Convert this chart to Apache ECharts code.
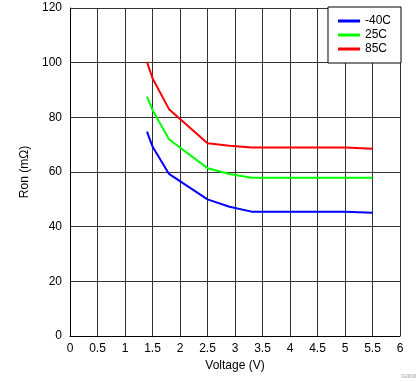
<!DOCTYPE html>
<html>
<head>
<meta charset="utf-8">
<script src="https://cdn.jsdelivr.net/npm/echarts@6/dist/echarts.min.js"></script>
<style>
html,body{margin:0;padding:0;background:#fff;}
#c{width:419px;height:382px;}
</style>
</head>
<body>
<div id="c"></div>
<script>
var voltage = [1.4, 1.5, 1.8, 2.5, 2.9, 3.3, 5.0, 5.5];
var ronM40 = [74.8, 69.3, 59.3, 50.0, 47.3, 45.5, 45.5, 45.1];
var ron25 = [87.6, 82.7, 72.0, 61.4, 59.3, 57.9, 57.9, 57.9];
var ron85 = [100.3, 94.3, 83.0, 70.5, 69.6, 69.0, 69.0, 68.5];
var seriesNames = ['-40C', '25C', '85C'];
var xTicks = ['0','0.5','1','1.5','2','2.5','3','3.5','4','4.5','5','5.5','6'];

function pairs(xs, ys){ return xs.map(function(x,i){ return [x, ys[i]]; }); }

var font = 'Liberation Sans, Arial, sans-serif';
var chart = echarts.init(document.getElementById('c'));
chart.setOption({
  animation: false,
  backgroundColor: '#fff',
  textStyle: {fontFamily: font},
  grid: {left: 70, right: 19, top: 8, bottom: 46, containLabel: false},
  legend: {
    orient: 'vertical', top: 7, right: 18,
    backgroundColor: '#fff', borderColor: '#000', borderWidth: 1, borderRadius: 0,
    padding: [7, 10, 7, 10], itemWidth: 22, itemHeight: 3, itemGap: 0,
    icon: 'rect',
    textStyle: {fontFamily: font, fontSize: 12, color: '#000', lineHeight: 14},
    data: seriesNames
  },
  xAxis: {
    type: 'value', min: 0, max: 6, interval: 0.5,
    name: 'Voltage (V)', nameLocation: 'middle', nameGap: 22,
    nameTextStyle: {fontFamily: font, fontSize: 12, color: '#000'},
    axisLine: {show: true, lineStyle: {color: '#000', width: 1}},
    axisTick: {show: false},
    axisLabel: {color: '#000', fontSize: 12, fontFamily: font, margin: 7,
      formatter: function(v){ var i = Math.round(v*2); return xTicks[i]; }},
    splitLine: {show: true, lineStyle: {color: '#333', width: 1}}
  },
  yAxis: {
    type: 'value', min: 0, max: 120, interval: 20,
    name: 'Ron (mΩ)', nameLocation: 'middle', nameGap: 29, nameRotate: 90,
    nameTextStyle: {fontFamily: font, fontSize: 12, color: '#000'},
    axisLine: {show: true, lineStyle: {color: '#000', width: 1}},
    axisTick: {show: false},
    axisLabel: {color: '#000', fontSize: 12, fontFamily: font, margin: 8},
    splitLine: {show: true, lineStyle: {color: '#333', width: 1}}
  },
  series: [
    {name: seriesNames[0], type: 'line', data: pairs(voltage, ronM40), symbol: 'none', lineStyle: {color: '#0000ff', width: 2}, itemStyle: {color: '#0000ff'}},
    {name: seriesNames[1], type: 'line', data: pairs(voltage, ron25), symbol: 'none', lineStyle: {color: '#00ff00', width: 2}, itemStyle: {color: '#00ff00'}},
    {name: seriesNames[2], type: 'line', data: pairs(voltage, ron85), symbol: 'none', lineStyle: {color: '#ff0000', width: 2}, itemStyle: {color: '#ff0000'}}
  ],
  graphic: [{type: 'text', right: 3, bottom: 3, style: {text: 'G000', fill: '#999', font: '6px ' + font}}]
});
</script>
</body>
</html>
